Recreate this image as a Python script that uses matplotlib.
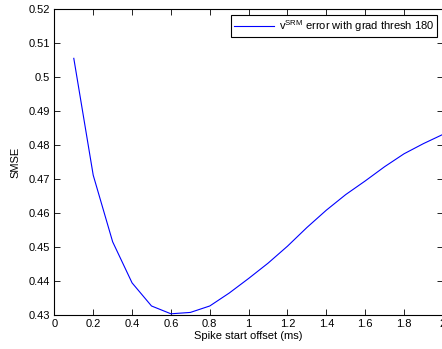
import matplotlib
matplotlib.use("Agg")
import matplotlib.pyplot as plt

# spike start offset (ms) vs SMSE
offset = [0.1, 0.2, 0.3, 0.4, 0.5, 0.6, 0.7, 0.8, 0.9, 1.0,
          1.1, 1.2, 1.3, 1.4, 1.5, 1.6, 1.7, 1.8, 1.9, 2.0]
smse = [0.5056, 0.4712, 0.4516, 0.4395, 0.4327, 0.4304, 0.4308, 0.4327, 0.4365, 0.4408,
        0.4453, 0.4503, 0.4558, 0.4609, 0.4655, 0.4695, 0.4737, 0.4775, 0.4805, 0.4832]
xticks = [0, 0.2, 0.4, 0.6, 0.8, 1, 1.2, 1.4, 1.6, 1.8, 2]
yticks = [0.43, 0.44, 0.45, 0.46, 0.47, 0.48, 0.49, 0.5, 0.51, 0.52]

plt.rcParams['font.family'] = ['Liberation Sans', 'DejaVu Sans']
plt.rcParams['font.size'] = 8
plt.rcParams['mathtext.fontset'] = 'custom'
plt.rcParams['mathtext.rm'] = 'Liberation Sans'

fig = plt.figure(figsize=(4.42, 3.49), dpi=100)
ax = fig.add_axes([0.123, 0.097, 0.879, 0.876])
ax.plot(offset, smse, color='blue', lw=0.8, label=r'v$^{\mathrm{SRM}}$ error with grad thresh 180')

ax.set_xlim(0, 2)
ax.set_ylim(0.43, 0.52)
ax.set_xticks(xticks)
ax.set_xticklabels([f"{t:g}" for t in xticks])
ax.set_yticks(yticks)
ax.set_yticklabels([f"{t:g}" for t in yticks])
ax.tick_params(direction='in', top=True, right=True, length=4, width=0.6, pad=3)
for s in ax.spines.values():
    s.set_linewidth(0.8)

ax.set_xlabel('Spike start offset (ms)', labelpad=1)
ax.set_ylabel('SMSE', labelpad=6)

leg = ax.legend(loc='upper right', fancybox=False, framealpha=1, edgecolor='black',
                handlelength=3.6, borderaxespad=0.5, borderpad=0.3, handletextpad=0.4)
leg.get_frame().set_linewidth(0.8)

fig.savefig('out.png', dpi=100)
